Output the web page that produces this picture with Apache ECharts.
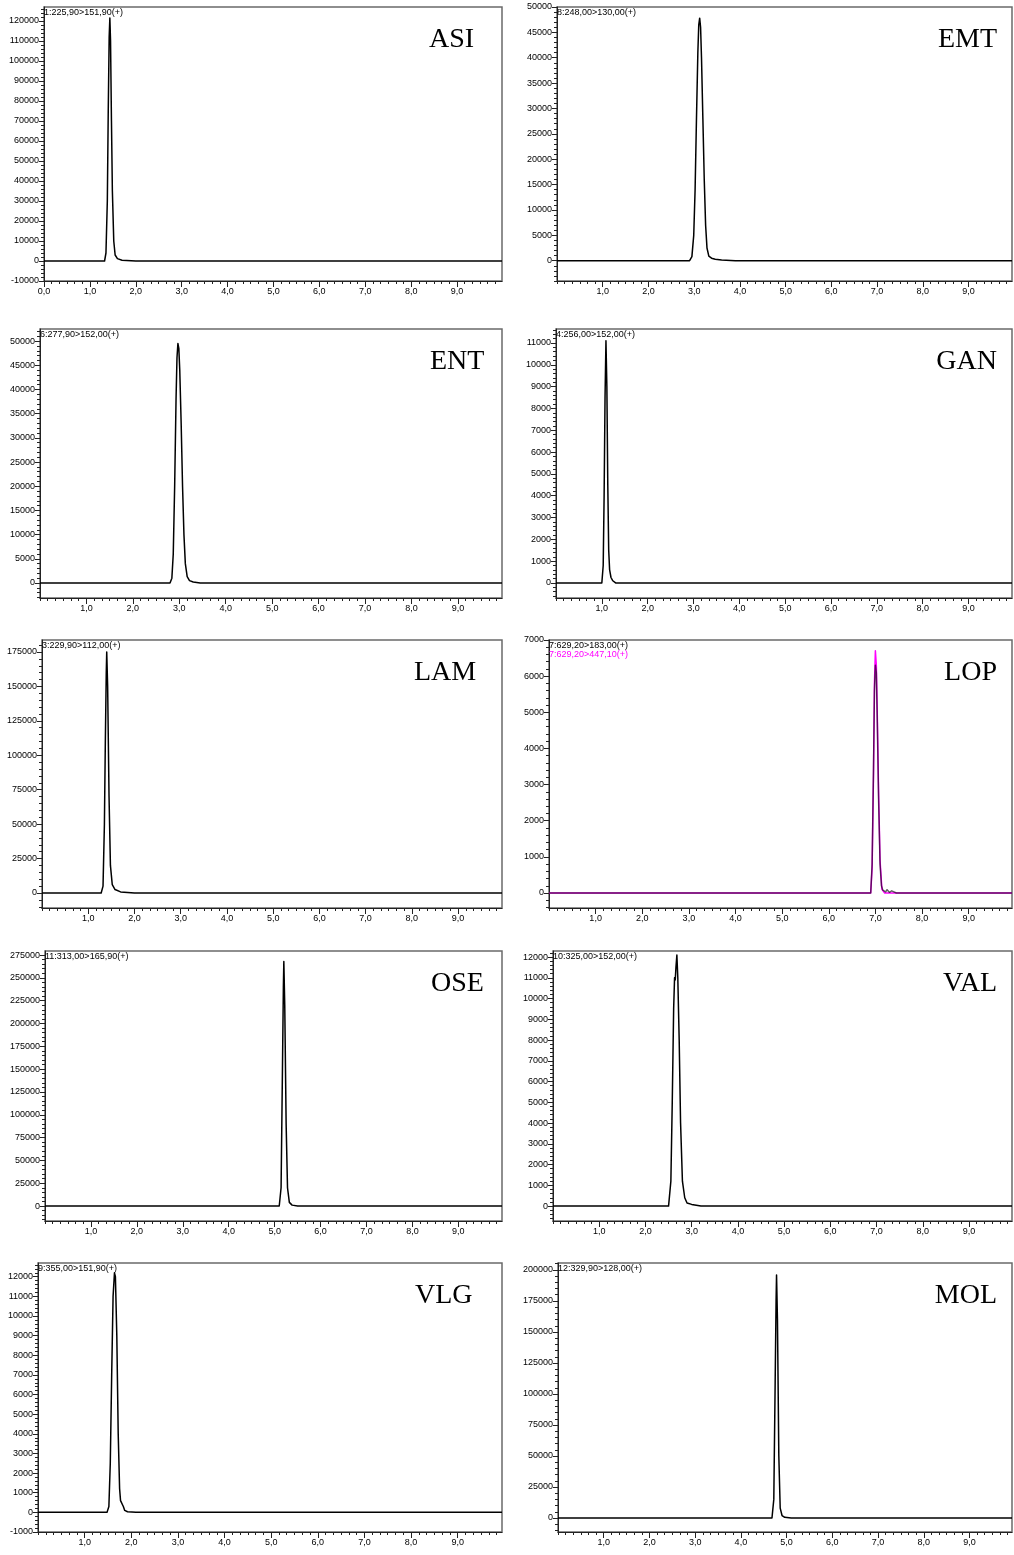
<!DOCTYPE html>
<html><head><meta charset="utf-8">
<script src="https://cdn.jsdelivr.net/npm/echarts@6/dist/echarts.min.js"></script>
<style>html,body{margin:0;padding:0;background:#fff}#c{width:1014px;height:1555px}</style>
</head><body><div id="c"></div>
<script>
// ---- data (retention time in min, intensity in counts) ----
const asiX = [0, 1.32, 1.35, 1.38, 1.40, 1.42, 1.435, 1.45, 1.47, 1.49, 1.52, 1.55, 1.60, 1.70, 2.0, 9.98];
const asiY = [0, 0, 4000, 30000, 75000, 112000, 121500, 110000, 70000, 35000, 10000, 3000, 1200, 400, 0, 0];
const emtX = [0, 2.90, 2.95, 2.99, 3.02, 3.05, 3.08, 3.10, 3.12, 3.14, 3.16, 3.19, 3.22, 3.25, 3.28, 3.32, 3.38, 3.46, 3.60, 3.90, 9.95];
const emtY = [0, 0, 800, 5000, 14000, 28000, 41000, 46500, 47800, 46000, 40000, 28000, 16000, 7000, 2500, 900, 500, 300, 150, 0, 0];
const entX = [0, 2.80, 2.84, 2.87, 2.90, 2.93, 2.95, 2.97, 2.99, 3.01, 3.04, 3.07, 3.10, 3.13, 3.17, 3.22, 3.30, 3.45, 9.95];
const entY = [0, 0, 1000, 6000, 20000, 38000, 46500, 49500, 48500, 44000, 33000, 20000, 10000, 4000, 1300, 500, 200, 0, 0];
const ganX = [0, 1.00, 1.03, 1.05, 1.07, 1.09, 1.11, 1.13, 1.15, 1.17, 1.20, 1.24, 1.30, 3.95, 3.97, 3.99, 9.63, 9.65, 9.67, 9.95];
const ganY = [0, 0, 800, 4000, 8500, 11100, 9000, 4500, 1500, 600, 250, 100, 0, 0, 60, 0, 0, 50, 0, 0];
const lamX = [0, 1.28, 1.32, 1.35, 1.37, 1.39, 1.40, 1.42, 1.45, 1.48, 1.52, 1.58, 1.70, 2.0, 9.95];
const lamY = [0, 0, 5000, 50000, 110000, 160000, 175000, 150000, 70000, 20000, 6000, 2500, 800, 0, 0];
const lopX = [0, 6.90, 6.93, 6.96, 6.98, 7.00, 7.02, 7.04, 7.07, 7.10, 7.13, 7.16, 7.19, 7.22, 7.25, 7.30, 7.35, 7.45, 9.93];
const lopY = [0, 0, 800, 3500, 5600, 6300, 6100, 4800, 2500, 800, 200, 80, 120, 30, 90, 20, 60, 0, 0];
const lop2X = [0, 6.90, 6.93, 6.96, 6.98, 7.00, 7.02, 7.04, 7.07, 7.10, 7.14, 7.20, 9.93];
const lop2Y = [0, 0, 700, 3300, 5800, 6700, 6300, 5000, 2700, 900, 100, 0, 0];
const oseX = [0, 5.10, 5.14, 5.17, 5.19, 5.20, 5.22, 5.25, 5.28, 5.32, 5.38, 5.50, 9.95];
const oseY = [0, 0, 20000, 150000, 240000, 268000, 220000, 90000, 20000, 4000, 1000, 0, 0];
const valX = [0, 2.50, 2.55, 2.58, 2.61, 2.63, 2.645, 2.66, 2.68, 2.70, 2.73, 2.76, 2.80, 2.85, 2.90, 3.00, 3.20, 9.93];
const valY = [0, 0, 1200, 5000, 9500, 11000, 10900, 11500, 12100, 11000, 8000, 4000, 1200, 400, 150, 80, 0, 0];
const vlgX = [0, 1.48, 1.52, 1.55, 1.58, 1.61, 1.64, 1.66, 1.69, 1.72, 1.75, 1.77, 1.80, 1.83, 1.86, 1.92, 2.1, 9.95];
const vlgY = [0, 0, 300, 2500, 7000, 11000, 12200, 12000, 9000, 4000, 1200, 600, 500, 300, 100, 30, 0, 0];
const molX = [0, 4.68, 4.72, 4.75, 4.77, 4.78, 4.80, 4.83, 4.86, 4.90, 4.96, 5.10, 9.93];
const molY = [0, 0, 15000, 110000, 175000, 196000, 160000, 50000, 8000, 2000, 500, 0, 0];

// ---- tick labels ----
const xTicksA = [0, 1, 2, 3, 4, 5, 6, 7, 8, 9];
const xTicks = [1, 2, 3, 4, 5, 6, 7, 8, 9];
const asiYTicks = [-10000, 0, 10000, 20000, 30000, 40000, 50000, 60000, 70000, 80000, 90000, 100000, 110000, 120000];
const emtYTicks = [0, 5000, 10000, 15000, 20000, 25000, 30000, 35000, 40000, 45000, 50000];
const entYTicks = [0, 5000, 10000, 15000, 20000, 25000, 30000, 35000, 40000, 45000, 50000];
const ganYTicks = [0, 1000, 2000, 3000, 4000, 5000, 6000, 7000, 8000, 9000, 10000, 11000];
const lamYTicks = [0, 25000, 50000, 75000, 100000, 125000, 150000, 175000];
const lopYTicks = [0, 1000, 2000, 3000, 4000, 5000, 6000, 7000];
const oseYTicks = [0, 25000, 50000, 75000, 100000, 125000, 150000, 175000, 200000, 225000, 250000, 275000];
const valYTicks = [0, 1000, 2000, 3000, 4000, 5000, 6000, 7000, 8000, 9000, 10000, 11000, 12000];
const vlgYTicks = [-1000, 0, 1000, 2000, 3000, 4000, 5000, 6000, 7000, 8000, 9000, 10000, 11000, 12000];
const molYTicks = [0, 25000, 50000, 75000, 100000, 125000, 150000, 175000, 200000];

// ---- panels (layout) ----
const panels = [
  {name:'ASI', sub:'1:225,90>151,90(+)', xs:[asiX], ys:[asiY], yt:asiYTicks, ym:2000, yMin:-10000, yMax:127000, xt:xTicksA, xMax:9.98, L:44, T:7, R:502, B:281, nx:429},
  {name:'EMT', sub:'8:248,00>130,00(+)', xs:[emtX], ys:[emtY], yt:emtYTicks, ym:1000, yMin:-4000, yMax:50000, xt:xTicks, xMax:9.95, L:557, T:7, R:1012, B:281},
  {name:'ENT', sub:'6:277,90>152,00(+)', xs:[entX], ys:[entY], yt:entYTicks, ym:1000, yMin:-3100, yMax:52500, xt:xTicks, xMax:9.95, L:40, T:329, R:502, B:598, nx:430},
  {name:'GAN', sub:'4:256,00>152,00(+)', xs:[ganX], ys:[ganY], yt:ganYTicks, ym:200, yMin:-690, yMax:11640, xt:xTicks, xMax:9.95, L:556, T:329, R:1012, B:598},
  {name:'LAM', sub:'3:229,90>112,00(+)', xs:[lamX], ys:[lamY], yt:lamYTicks, ym:5000, yMin:-10900, yMax:183700, xt:xTicks, xMax:9.95, L:42, T:640, R:502, B:908, nx:414},
  {name:'LOP', sub:'7:629,20>183,00(+)', sub2:'7:629,20>447,10(+)', xs:[lop2X, lopX], ys:[lop2Y, lopY], colors:['#ff00ff','#000'], opac:[1, 0.62], yt:lopYTicks, ym:200, yMin:-415, yMax:7000, xt:xTicks, xMax:9.93, L:549, T:640, R:1012, B:908},
  {name:'OSE', sub:'11:313,00>165,90(+)', xs:[oseX], ys:[oseY], yt:oseYTicks, ym:5000, yMin:-16400, yMax:279400, xt:xTicks, xMax:9.95, L:45, T:951, R:502, B:1221, nx:431},
  {name:'VAL', sub:'10:325,00>152,00(+)', xs:[valX], ys:[valY], yt:valYTicks, ym:200, yMin:-720, yMax:12290, xt:xTicks, xMax:9.93, L:553, T:951, R:1012, B:1221},
  {name:'VLG', sub:'9:355,00>151,90(+)', xs:[vlgX], ys:[vlgY], yt:vlgYTicks, ym:200, yMin:-1000, yMax:12700, xt:xTicks, xMax:9.95, L:38, T:1263, R:502, B:1532, nx:415},
  {name:'MOL', sub:'12:329,90>128,00(+)', xs:[molX], ys:[molY], yt:molYTicks, ym:5000, yMin:-11300, yMax:205600, xt:xTicks, xMax:9.93, L:558, T:1263, R:1012, B:1532}
];

const AX = '#222', FONT = '"Liberation Sans", Arial, sans-serif';
const grid = [], xAxis = [], yAxis = [], series = [], title = [];
function minorVals(min, max, step) {
  const out = [];
  for (let k = Math.ceil(min / step - 1e-9); k * step <= max + 1e-9; k++) out.push(+(k * step).toFixed(6));
  return out;
}
panels.forEach((p, i) => {
  grid.push({left:p.L, top:p.T, width:p.R - p.L, height:p.B - p.T, show:true, borderColor:'#6a6a6a', borderWidth:1.5, containLabel:false, outerBoundsMode:'none'});
  const xmaj = xAxis.length, ymaj = yAxis.length;
  xAxis.push({type:'value', gridIndex:i, min:0, max:p.xMax, position:'bottom',
    axisLine:{show:true, onZero:false, lineStyle:{color:AX, width:1}},
    axisTick:{show:true, customValues:p.xt, length:6, lineStyle:{color:AX, width:1}},
    axisLabel:{show:true, customValues:p.xt, margin:6, fontSize:9, color:'#000', fontFamily:FONT,
      formatter:v => v.toFixed(1).replace('.', ',')},
    splitLine:{show:false}});
  xAxis.push({type:'value', gridIndex:i, min:0, max:p.xMax, position:'bottom',
    axisLine:{show:false, onZero:false},
    axisTick:{show:true, customValues:minorVals(0, p.xMax, 1/6), length:3, lineStyle:{color:AX, width:1}},
    axisLabel:{show:false}, splitLine:{show:false}});
  yAxis.push({type:'value', gridIndex:i, min:p.yMin, max:p.yMax, position:'left',
    axisLine:{show:true, onZero:false, lineStyle:{color:AX, width:1}},
    axisTick:{show:true, customValues:p.yt, length:5, lineStyle:{color:AX, width:1}},
    axisLabel:{show:true, customValues:p.yt, margin:5, fontSize:9, color:'#000', fontFamily:FONT, formatter:v => String(v)},
    splitLine:{show:false}});
  yAxis.push({type:'value', gridIndex:i, min:p.yMin, max:p.yMax, position:'left',
    axisLine:{show:false, onZero:false},
    axisTick:{show:true, customValues:minorVals(p.yMin, p.yMax, p.ym), length:3, lineStyle:{color:AX, width:1}},
    axisLabel:{show:false}, splitLine:{show:false}});
  p.xs.forEach((xs, j) => {
    series.push({type:'line', xAxisIndex:xmaj, yAxisIndex:ymaj, showSymbol:false, symbol:'none',
      smooth:false, animation:false, silent:true,
      lineStyle:{color:(p.colors ? p.colors[j] : '#000'), opacity:(p.opac ? p.opac[j] : 1), width:1.5, join:'round'},
      data:xs.map((x, k) => [x, p.ys[j][k]])});
  });
  title.push({text:p.sub, left:p.L, top:p.T + 1, padding:0, textStyle:{fontSize:9, fontWeight:'normal', color:'#000', fontFamily:FONT}});
  if (p.sub2) title.push({text:p.sub2, left:p.L, top:p.T + 10, padding:0, textStyle:{fontSize:9, fontWeight:'normal', color:'#ff00ff', fontFamily:FONT}});
  const nt = {text:p.name, top:p.T + 19, padding:0, textStyle:{fontSize:28, fontWeight:'normal', color:'#000', fontFamily:'"Liberation Serif", "Times New Roman", serif'}};
  if (p.nx !== undefined) nt.left = p.nx; else nt.right = 1014 - 997;
  title.push(nt);
});

const chart = echarts.init(document.getElementById('c'), null, {renderer:'canvas'});
chart.setOption({animation:false, backgroundColor:'#fff', title, grid, xAxis, yAxis, series});
</script></body></html>
